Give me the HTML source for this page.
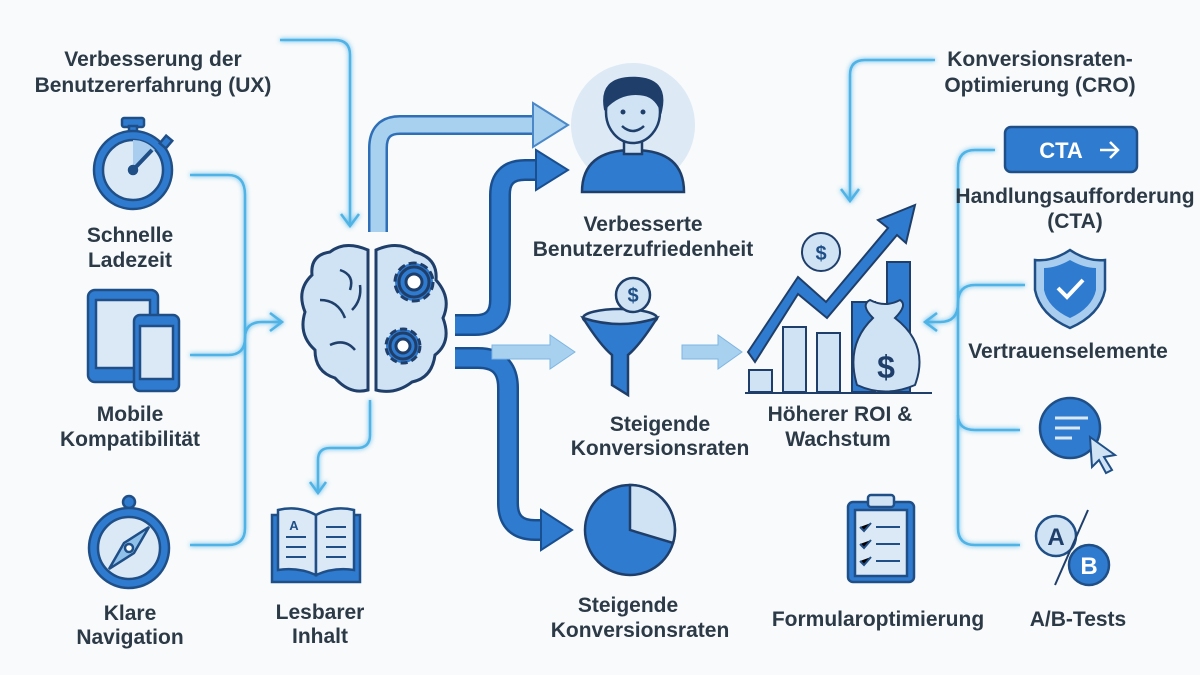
<!DOCTYPE html>
<html><head><meta charset="utf-8"><style>
html,body{margin:0;padding:0;background:#f8fafb;}
svg{display:block}
text{font-family:"Liberation Sans",sans-serif;font-weight:bold;fill:#2c3a47;font-size:21px;text-anchor:middle}
</style></head><body>
<svg width="1200" height="675" viewBox="0 0 1200 675" xmlns="http://www.w3.org/2000/svg">
<defs>
<filter id="g" x="-20%" y="-20%" width="140%" height="140%"><feGaussianBlur stdDeviation="2.5" result="b"/><feMerge><feMergeNode in="b"/><feMergeNode in="SourceGraphic"/></feMerge></filter>
</defs>
<rect width="1200" height="675" fill="#f8fafb"/>

<g fill="none" stroke="#4fb3e6" stroke-width="2.5" filter="url(#g)">
<path d="M190 175 H228 Q245 175 245 195 V528 Q245 545 228 545 H190"/>
<path d="M190 355 H228 Q245 355 245 338 Q245 322 262 322 H282"/>
<path d="M270 313 L282 322 L270 331"/>
<path d="M280 40 H335 Q350 40 350 55 V225"/>
<path d="M341 214 L350 226 L359 214"/>
<path d="M370 400 V435 Q370 448 357 448 H330 Q318 448 318 460 V492"/>
<path d="M310 482 L318 493 L326 482"/>
<path d="M935 60 H865 Q850 60 850 75 V200"/>
<path d="M841 189 L850 201 L859 189"/>
<path d="M995 150 H975 Q958 150 958 168 V528 Q958 545 975 545 H1020"/>
<path d="M1025 285 H975 Q958 285 958 303 Q958 322 940 322 H925"/>
<path d="M937 313 L925 322 L937 331"/>
<path d="M958 415 Q958 430 975 430 H1020"/>
</g>

<path d="M378 232 V148 Q378 125 400 125 H535" fill="none" stroke="#2e6fb8" stroke-width="20"/>
<path d="M378 232 V148 Q378 125 400 125 H535" fill="none" stroke="#a8d0ef" stroke-width="15"/>
<path d="M533 103 L568 125 L533 147 Z" fill="#a8d0ef" stroke="#4a88c8" stroke-width="2"/>
<path d="M455 325 H475 Q500 325 500 300 V195 Q500 170 525 170 H540" fill="none" stroke="#1a4f8f" stroke-width="22"/>
<path d="M455 325 H475 Q500 325 500 300 V195 Q500 170 525 170 H540" fill="none" stroke="#2f7bd0" stroke-width="17"/>
<path d="M536 150 L568 170 L536 190 Z" fill="#2f7bd0" stroke="#1a4f8f" stroke-width="2"/>
<path d="M455 358 H478 Q508 358 508 388 V503 Q508 530 535 530 H545" fill="none" stroke="#1a4f8f" stroke-width="22"/>
<path d="M455 358 H478 Q508 358 508 388 V503 Q508 530 535 530 H545" fill="none" stroke="#2f7bd0" stroke-width="17"/>
<path d="M541 510 L572 530 L541 550 Z" fill="#2f7bd0" stroke="#1a4f8f" stroke-width="2"/>
<path d="M492 345 H550 V335 L575 352 L550 369 V359 H492 Z" fill="#a8d0ef" stroke="#7fb6e3"/>
<path d="M682 345 H718 V335 L742 352 L718 369 V359 H682 Z" fill="#a8d0ef" stroke="#7fb6e3"/>

<g stroke="#1f4f86" stroke-width="2.5">
<rect x="122" y="118" width="22" height="9" rx="2" fill="#2f7bd0"/>
<rect x="129" y="126" width="8" height="8" fill="#2f7bd0"/>
<circle cx="133" cy="170" r="39" fill="#2f7bd0"/>
<circle cx="133" cy="170" r="30" fill="#dbe9f6"/>
<path d="M133 170 L133 140 A30 30 0 0 1 155 150 Z" fill="#a8cdee" stroke="none"/>
<path d="M133 170 L152 150" stroke-width="4"/><circle cx="133" cy="170" r="4" fill="#1f4f86"/>
<rect x="162" y="137" width="8" height="10" transform="rotate(40 166 142)" fill="#2f7bd0"/>
</g>
<g stroke="#1f4f86" stroke-width="2.5">
<rect x="88" y="290" width="70" height="92" rx="7" fill="#2f7bd0"/>
<rect x="96" y="300" width="54" height="68" fill="#dbe9f6"/>
<rect x="134" y="315" width="45" height="76" rx="6" fill="#2f7bd0"/>
<rect x="140" y="326" width="33" height="53" fill="#dbe9f6"/>
</g>
<g stroke="#1f4f86" stroke-width="2.5">
<circle cx="129" cy="502" r="6" fill="#2f7bd0"/>
<circle cx="129" cy="548" r="40" fill="#2f7bd0"/>
<circle cx="129" cy="548" r="31" fill="#dbe9f6"/>
<path d="M149 527 L134 553 L109 569 L124 543 Z" fill="#8fc0ea"/>
<circle cx="129" cy="548" r="4" fill="#fff"/>
</g>
<g stroke="#1f4f86" stroke-width="2.5">
<path d="M272 515 H360 V582 H272 Z" fill="#2f7bd0"/>
<path d="M278 510 Q298 505 316 515 V575 Q298 567 278 570 Z" fill="#dbe9f6"/>
<path d="M354 510 Q334 505 316 515 V575 Q334 567 354 570 Z" fill="#dbe9f6"/>
<path d="M286 537 H306 M286 547 H306 M286 557 H306 M326 527 H346 M326 537 H346 M326 547 H346 M326 557 H346" stroke-width="2"/>
</g>
<text x="294" y="530" style="font-size:13px;fill:#1f4f86">A</text>

<g stroke="#1f3f6a" stroke-width="3">
<path d="M368 250 Q345 240 330 252 Q310 255 312 275 Q296 290 305 312 Q298 335 315 350 Q315 372 335 378 Q350 395 368 390 Z" fill="#cfe3f5"/>
<path d="M376 250 Q398 240 415 252 Q438 258 436 280 Q452 298 443 318 Q452 342 435 355 Q432 378 412 382 Q395 395 376 390 Z" fill="#cfe3f5"/>
<path d="M340 270 Q355 275 350 290 M320 300 Q338 300 345 318 M330 345 Q345 338 355 350 M352 310 Q362 300 360 285" fill="none" stroke-width="2.5"/>
<circle cx="414" cy="282" r="19" fill="#2f7bd0" stroke-dasharray="8 4"/>
<circle cx="414" cy="282" r="15" fill="#2f7bd0"/>
<circle cx="414" cy="282" r="8" fill="#fff"/>
<circle cx="403" cy="346" r="17" fill="#2f7bd0" stroke-dasharray="7 4"/>
<circle cx="403" cy="346" r="13" fill="#2f7bd0"/>
<circle cx="403" cy="346" r="7" fill="#fff"/>
</g>

<circle cx="633" cy="125" r="62" fill="#dde9f5"/>
<g stroke="#1f3f6a" stroke-width="2.5">
<path d="M582 192 Q582 150 633 150 Q684 150 684 192 Z" fill="#2f7bd0"/>
<rect x="624" y="138" width="18" height="16" fill="#cfe3f5"/>
<ellipse cx="633" cy="112" rx="27" ry="31" fill="#cfe3f5"/>
<path d="M605 108 Q600 78 633 78 Q668 78 661 110 Q655 95 640 94 Q620 92 605 108 Z" fill="#1f3f6a"/>
<path d="M622 126 Q633 136 644 126" fill="none"/>
</g>
<circle cx="623" cy="112" r="2.5" fill="#1f3f6a"/><circle cx="643" cy="112" r="2.5" fill="#1f3f6a"/>

<g stroke="#1f3f6a" stroke-width="2.5">
<ellipse cx="620" cy="318" rx="37" ry="9" fill="#cfe3f5"/>
<path d="M583 318 Q600 345 612 355 V385 L628 395 V355 Q640 345 657 318 Q620 330 583 318 Z" fill="#2f7bd0"/>
<circle cx="633" cy="295" r="17" fill="#cfe3f5"/>
</g>
<text x="633" y="302" style="font-size:20px;fill:#1f4f86">$</text>

<circle cx="630" cy="530" r="45" fill="#2f7bd0" stroke="#1f3f6a" stroke-width="2.5"/>
<path d="M630 530 V485 A45 45 0 0 1 673 543 Z" fill="#cfe3f5" stroke="#1f3f6a" stroke-width="2.5"/>

<g stroke="#1f3f6a" stroke-width="2">
<rect x="749" y="370" width="23" height="22" fill="#cfe3f5"/>
<rect x="783" y="327" width="23" height="65" fill="#cfe3f5"/>
<rect x="817" y="333" width="23" height="59" fill="#cfe3f5"/>
<rect x="852" y="302" width="23" height="90" fill="#2f7bd0"/>
<rect x="887" y="262" width="23" height="130" fill="#2f7bd0"/>
<path d="M745 393 H932"/>
<path d="M748 352 L798 277 L826 302 L888 228 L878 220 L915 205 L906 243 L897 235 L827 318 L798 294 L755 362 Z" fill="#2f7bd0"/>
<circle cx="821" cy="252" r="19" fill="#cfe3f5"/>
<path d="M873 318 Q860 305 870 300 Q885 308 900 300 Q908 305 895 318 Q930 345 915 385 Q885 398 857 385 Q845 345 873 318 Z" fill="#cfe3f5"/>
</g>
<text x="821" y="260" style="font-size:20px;fill:#1f4f86">$</text>
<text x="886" y="378" style="font-size:32px;fill:#1f3f6a">$</text>

<rect x="1005" y="127" width="132" height="45" rx="6" fill="#2f7bd0" stroke="#1f4f86" stroke-width="2.5"/>
<text x="1061" y="158" style="font-size:22px;fill:#fff">CTA</text>
<path d="M1100 150 H1118 M1110 142 L1118 150 L1110 158" stroke="#fff" stroke-width="2.5" fill="none"/>
<path d="M1070 250 Q1088 262 1105 260 V290 Q1100 315 1070 328 Q1040 315 1035 290 V260 Q1052 262 1070 250 Z" fill="#a8cdee" stroke="#1f4f86" stroke-width="2.5"/>
<path d="M1070 260 Q1084 268 1096 268 V290 Q1092 308 1070 318 Q1048 308 1044 290 V268 Q1056 268 1070 260 Z" fill="#2f7bd0"/>
<path d="M1058 288 L1067 297 L1083 280" stroke="#fff" stroke-width="4" fill="none"/>
<circle cx="1070" cy="428" r="30" fill="#2f7bd0" stroke="#1f4f86" stroke-width="2.5"/>
<path d="M1055 418 H1088 M1055 428 H1080 M1055 438 H1072" stroke="#dbe9f6" stroke-width="3"/>
<path d="M1090 437 L1115 455 L1104 457 L1112 470 L1106 473 L1099 460 L1092 467 Z" fill="#cfe3f5" stroke="#1f4f86" stroke-width="2"/>
<circle cx="1056" cy="536" r="20" fill="#cfe3f5" stroke="#1f4f86" stroke-width="2.5"/>
<circle cx="1089" cy="565" r="20" fill="#2f7bd0" stroke="#1f4f86" stroke-width="2.5"/>
<path d="M1088 510 L1055 585" stroke="#1f3f6a" stroke-width="2"/>
<text x="1056" y="545" style="font-size:24px;fill:#1f3f6a">A</text>
<text x="1089" y="574" style="font-size:24px;fill:#fff">B</text>
<g stroke="#1f4f86" stroke-width="2.5">
<rect x="848" y="502" width="66" height="80" rx="5" fill="#2f7bd0"/>
<rect x="855" y="510" width="52" height="66" fill="#dbe9f6"/>
<rect x="868" y="495" width="26" height="12" rx="3" fill="#cfe3f5"/>
<path d="M860 527 l4 4 l7 -8 M860 544 l4 4 l7 -8 M860 561 l4 4 l7 -8 M876 527 H900 M876 544 H900 M876 561 H900" stroke-width="2"/>
</g>

<text x="153" y="66">Verbesserung der</text>
<text x="153" y="92">Benutzererfahrung (UX)</text>
<text x="130" y="242">Schnelle</text>
<text x="130" y="267">Ladezeit</text>
<text x="130" y="421">Mobile</text>
<text x="130" y="446">Kompatibilität</text>
<text x="130" y="620">Klare</text>
<text x="130" y="644">Navigation</text>
<text x="320" y="619">Lesbarer</text>
<text x="320" y="643">Inhalt</text>
<text x="643" y="231">Verbesserte</text>
<text x="643" y="256">Benutzerzufriedenheit</text>
<text x="660" y="431">Steigende</text>
<text x="660" y="455">Konversionsraten</text>
<text x="628" y="612">Steigende</text>
<text x="640" y="637">Konversionsraten</text>
<text x="840" y="421">Höherer ROI &amp;</text>
<text x="838" y="446">Wachstum</text>
<text x="1040" y="66">Konversionsraten-</text>
<text x="1040" y="92">Optimierung (CRO)</text>
<text x="1075" y="203">Handlungsaufforderung</text>
<text x="1075" y="228">(CTA)</text>
<text x="1068" y="358">Vertrauenselemente</text>
<text x="878" y="626">Formularoptimierung</text>
<text x="1078" y="626">A/B-Tests</text>
</svg>
</body></html>
